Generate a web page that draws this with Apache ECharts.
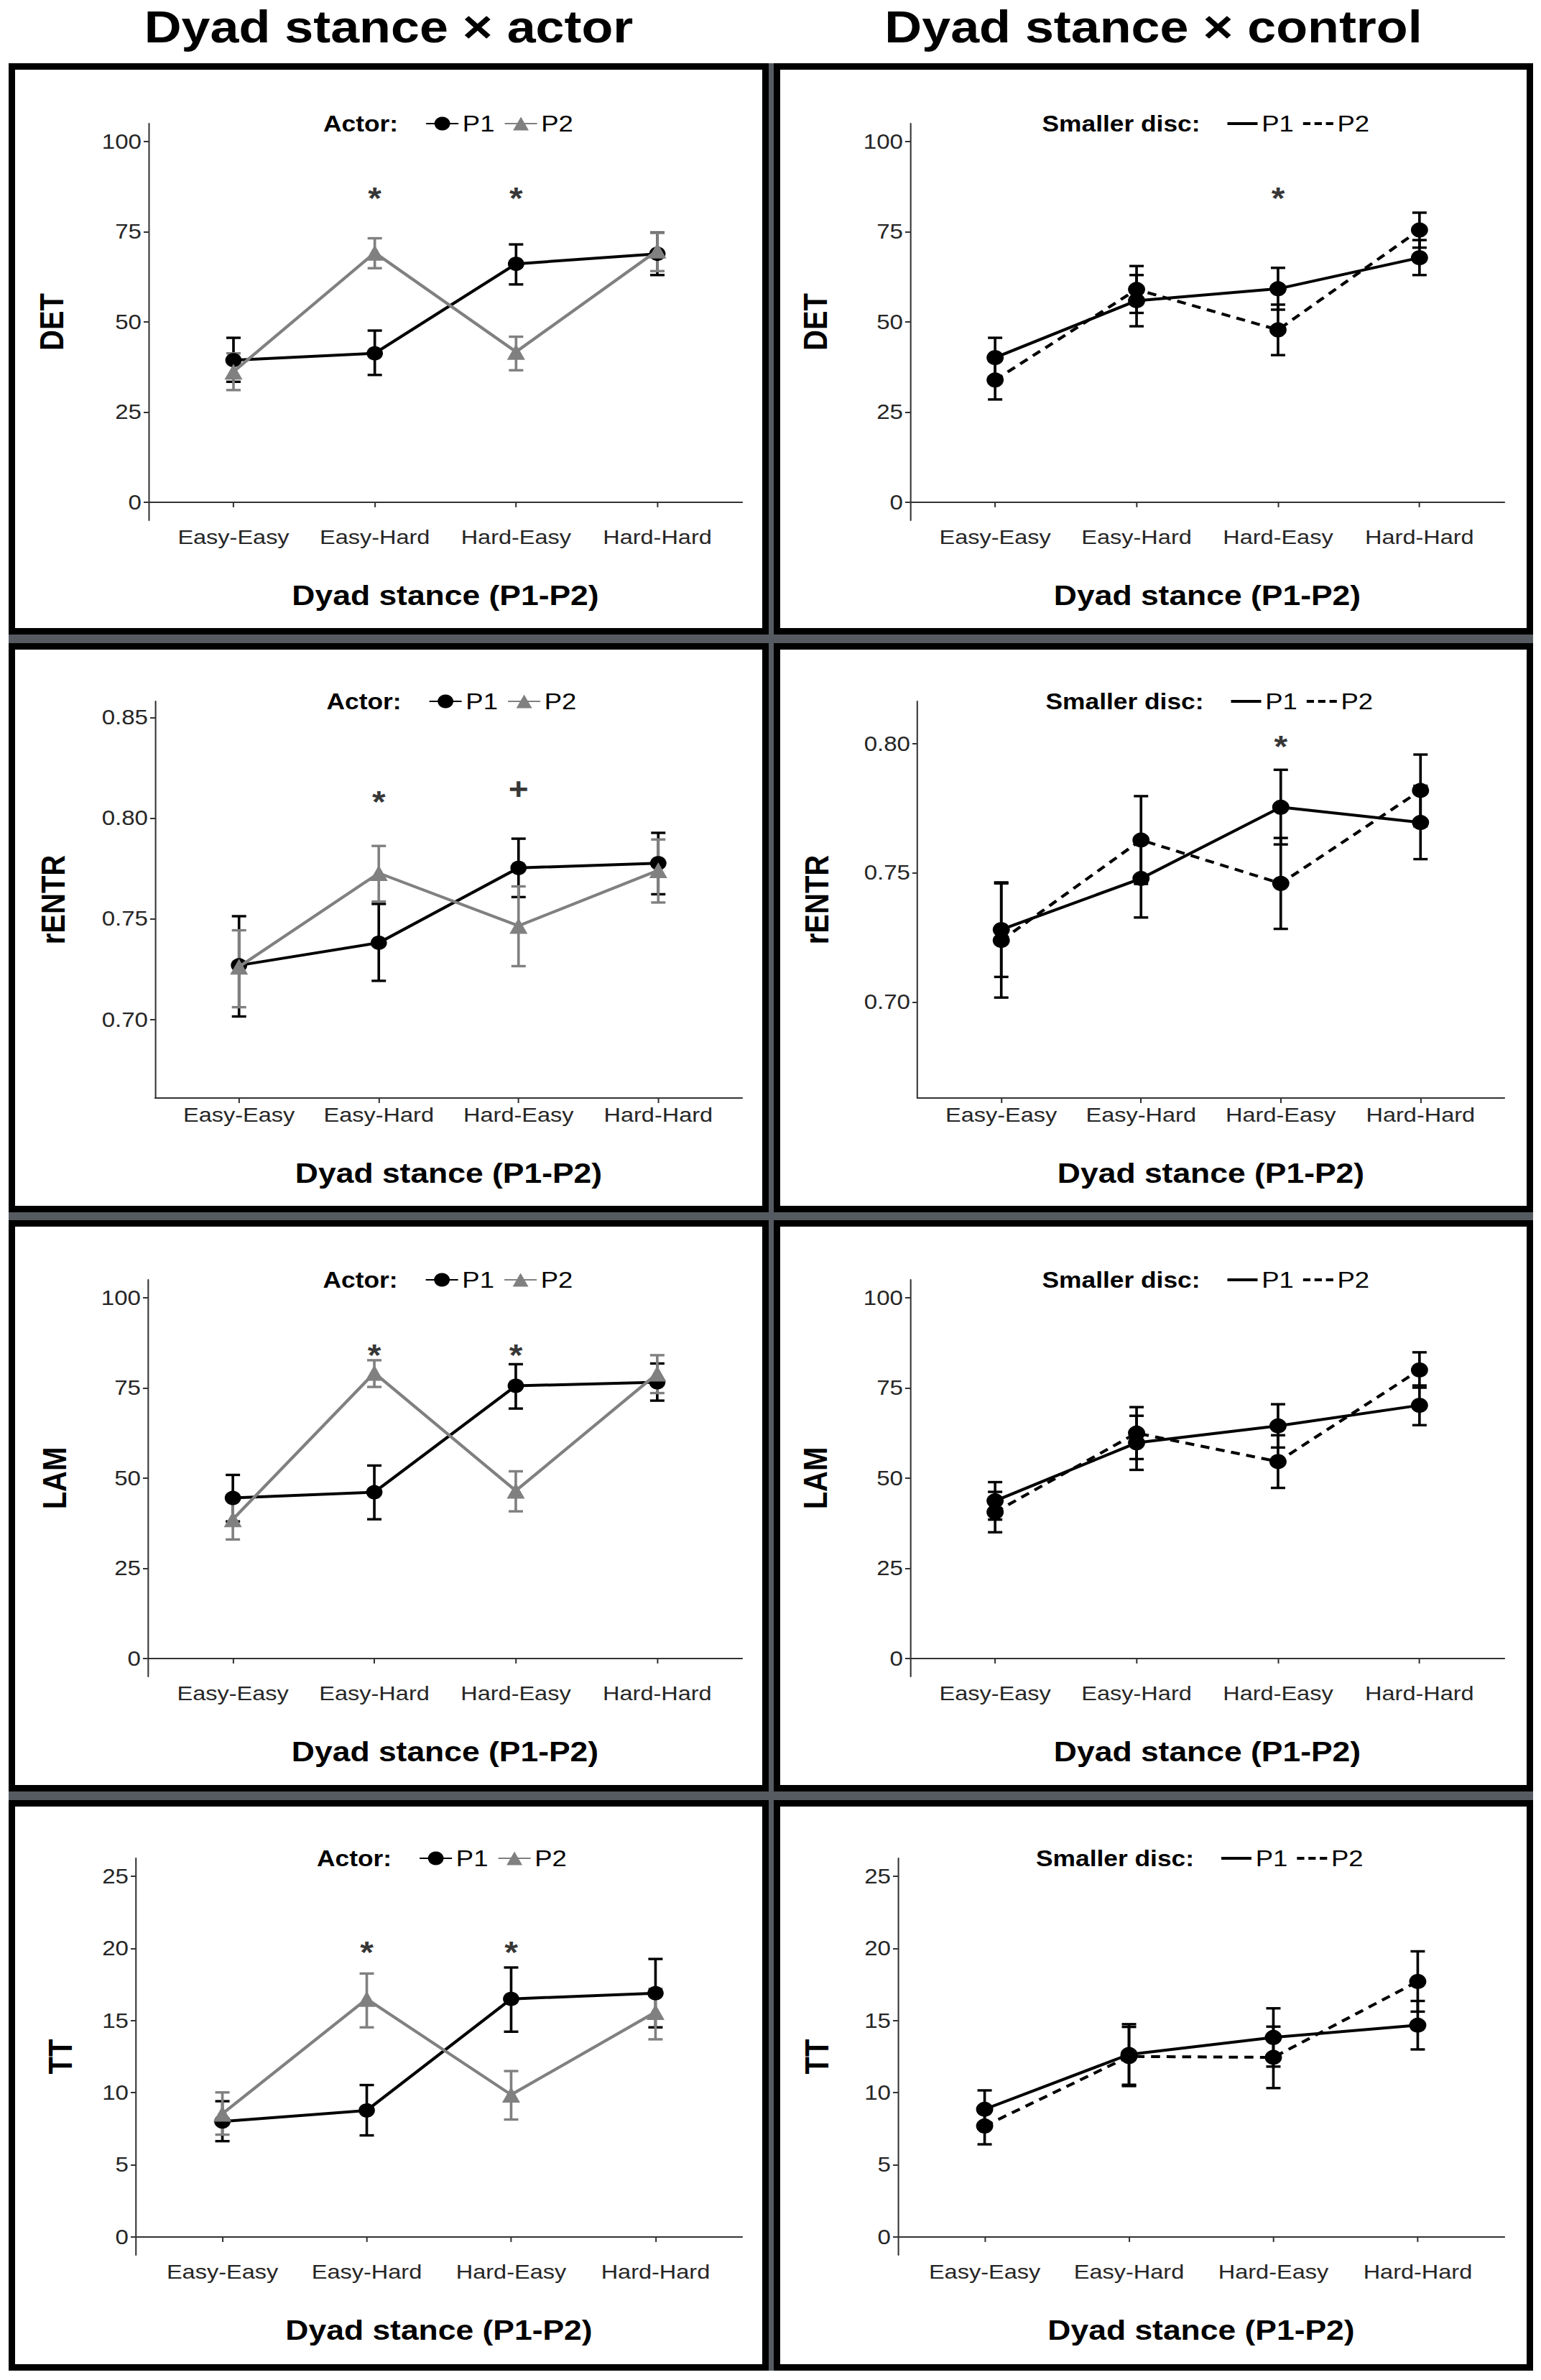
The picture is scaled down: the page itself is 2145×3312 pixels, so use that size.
<!DOCTYPE html>
<html>
<head>
<meta charset="utf-8">
<script src="https://cdn.jsdelivr.net/npm/echarts@6/dist/echarts.min.js"></script>
<style>
html,body{margin:0;padding:0;background:#fff;}
#wrap{position:relative;width:2145px;height:3312px;overflow:hidden;}
.bg{position:absolute;background:#565b61;}
.panel{position:absolute;box-sizing:border-box;border:9px solid #000;background:#fff;}
#c{position:absolute;left:0;top:0;height:3312px;transform-origin:0 0;}
</style>
</head>
<body>
<div id="wrap"><div id="c"></div></div>
<script>
// ---------------- data ----------------
const categories = ['Easy-Easy', 'Easy-Hard', 'Hard-Easy', 'Hard-Hard'];
const columnTitles = ['Dyad stance \u00d7 actor', 'Dyad stance \u00d7 control'];
const legendTitles = ['Actor:', 'Smaller disc:'];
const xAxisTitle = 'Dyad stance (P1-P2)';
const measures = ['DET', 'rENTR', 'LAM', 'TT'];

// y-axis ticks and ranges
const detTicks = [0, 25, 50, 75, 100];
const detRange = [-5, 105];
const rentrActorTicks = [0.70, 0.75, 0.80, 0.85];
const rentrActorRange = [0.661, 0.858];
const rentrControlTicks = [0.70, 0.75, 0.80];
const rentrControlRange = [0.6628, 0.8164];
const lamTicks = [0, 25, 50, 75, 100];
const lamRange = [-5, 105];
const ttTicks = [0, 5, 10, 15, 20, 25];
const ttRange = [-1.25, 26.25];

// DET x actor
const detActorP1 = [39.4, 41.3, 66.1, 68.9];
const detActorP1Lo = [33.4, 35.3, 60.4, 63.0];
const detActorP1Hi = [45.6, 47.6, 71.5, 74.8];
const detActorP2 = [36.2, 69.2, 41.7, 69.8];
const detActorP2Lo = [31.1, 64.9, 36.6, 64.1];
const detActorP2Hi = [41.3, 73.2, 45.9, 74.7];
const detActorMarks = [[2, 86.3, '*'], [3, 86.3, '*']];

// DET x control
const detControlP1 = [40.1, 55.9, 59.2, 67.8];
const detControlP1Lo = [34.6, 48.8, 53.4, 63.0];
const detControlP1Hi = [45.6, 63.0, 65.0, 72.7];
const detControlP2 = [33.9, 59.0, 47.8, 75.5];
const detControlP2Lo = [28.5, 52.5, 40.8, 70.6];
const detControlP2Hi = [39.3, 65.5, 54.8, 80.3];
const detControlMarks = [[3, 86.3, '*']];

// rENTR x actor
const rentrActorP1 = [0.7269, 0.7381, 0.7753, 0.7776];
const rentrActorP1Lo = [0.7015, 0.7192, 0.7608, 0.7622];
const rentrActorP1Hi = [0.7513, 0.7574, 0.7898, 0.7927];
const rentrActorP2 = [0.7262, 0.7727, 0.7465, 0.7741];
const rentrActorP2Lo = [0.7061, 0.7586, 0.7265, 0.7581];
const rentrActorP2Hi = [0.7443, 0.7862, 0.7661, 0.7894];
const rentrActorMarks = [[2, 0.8119, '*'], [3, 0.8145, '+']];

// rENTR x control
const rentrControlP1 = [0.7280, 0.7478, 0.7754, 0.7695];
const rentrControlP1Lo = [0.7097, 0.7327, 0.7610, 0.7553];
const rentrControlP1Hi = [0.7463, 0.7629, 0.7899, 0.7837];
const rentrControlP2 = [0.7238, 0.7627, 0.7459, 0.7819];
const rentrControlP2Lo = [0.7017, 0.7457, 0.7283, 0.7680];
const rentrControlP2Hi = [0.7459, 0.7797, 0.7635, 0.7958];
const rentrControlMarks = [[3, 0.8017, '*']];

// LAM x actor
const lamActorP1 = [44.5, 46.1, 75.6, 76.6];
const lamActorP1Lo = [38.0, 38.6, 69.3, 71.5];
const lamActorP1Hi = [50.9, 53.5, 81.6, 81.8];
const lamActorP2 = [38.6, 79.2, 46.5, 79.0];
const lamActorP2Lo = [33.0, 75.3, 40.8, 73.6];
const lamActorP2Hi = [44.2, 82.7, 51.9, 84.1];
const lamActorMarks = [[2, 86.1, '*'], [3, 86.1, '*']];

// LAM x control
const lamControlP1 = [43.7, 59.8, 64.5, 70.2];
const lamControlP1Lo = [38.5, 52.3, 58.5, 64.7];
const lamControlP1Hi = [48.9, 67.3, 70.5, 75.7];
const lamControlP2 = [40.6, 62.5, 54.6, 80.0];
const lamControlP2Lo = [35.0, 55.3, 47.3, 75.1];
const lamControlP2Hi = [46.2, 69.7, 61.9, 84.9];
const lamControlMarks = [];

// TT x actor
const ttActorP1 = [8.0, 8.77, 16.5, 16.9];
const ttActorP1Lo = [6.64, 7.04, 14.23, 14.53];
const ttActorP1Hi = [9.41, 10.53, 18.68, 19.27];
const ttActorP2 = [8.54, 16.5, 9.86, 15.59];
const ttActorP2Lo = [7.09, 14.53, 8.14, 13.7];
const ttActorP2Hi = [10.02, 18.26, 11.5, 17.2];
const ttActorMarks = [[2, 20.24, '*'], [3, 20.24, '*']];

// TT x control
const ttControlP1 = [8.85, 12.65, 13.83, 14.68];
const ttControlP1Lo = [7.54, 10.55, 11.81, 13.0];
const ttControlP1Hi = [10.16, 14.75, 15.85, 16.36];
const ttControlP2 = [7.69, 12.51, 12.45, 17.71];
const ttControlP2Lo = [6.42, 10.46, 10.32, 15.62];
const ttControlP2Hi = [8.96, 14.56, 14.58, 19.8];
const ttControlMarks = [];

// ---------------- layout (styles) ----------------
// The reference figure is horizontally stretched; the chart is drawn narrower and stretched back with CSS.
const SX = 1.14;
const W0 = 2145 / SX;
const X = v => v / SX;
const FONT = '"Liberation Sans", Arial, Helvetica, sans-serif';
const rowTop = [88, 895, 1698, 2505];
const rowBottom = [883, 1687, 2493, 3299];
const colLeft = [12, 1077];
const colRight = [1070, 2134];
const gridTop = [172, 976, 1781, 2586];
const gridH = 552;
const gridLeft = [[207, 1267], [216, 1277], [206, 1267], [189, 1250]];
const gridRight = [1033, 2094];
const yTitleX = [[72, 1135], [74, 1137], [76, 1135], [84, 1137]];

const panels = [
  {r:0, c:0, m:'DET', ticks:detTicks, range:detRange, s:[[detActorP1, detActorP1Lo, detActorP1Hi],[detActorP2, detActorP2Lo, detActorP2Hi]], marks:detActorMarks},
  {r:0, c:1, m:'DET', ticks:detTicks, range:detRange, s:[[detControlP1, detControlP1Lo, detControlP1Hi],[detControlP2, detControlP2Lo, detControlP2Hi]], marks:detControlMarks},
  {r:1, c:0, m:'rENTR', ticks:rentrActorTicks, range:rentrActorRange, s:[[rentrActorP1, rentrActorP1Lo, rentrActorP1Hi],[rentrActorP2, rentrActorP2Lo, rentrActorP2Hi]], marks:rentrActorMarks},
  {r:1, c:1, m:'rENTR', ticks:rentrControlTicks, range:rentrControlRange, s:[[rentrControlP1, rentrControlP1Lo, rentrControlP1Hi],[rentrControlP2, rentrControlP2Lo, rentrControlP2Hi]], marks:rentrControlMarks},
  {r:2, c:0, m:'LAM', ticks:lamTicks, range:lamRange, s:[[lamActorP1, lamActorP1Lo, lamActorP1Hi],[lamActorP2, lamActorP2Lo, lamActorP2Hi]], marks:lamActorMarks},
  {r:2, c:1, m:'LAM', ticks:lamTicks, range:lamRange, s:[[lamControlP1, lamControlP1Lo, lamControlP1Hi],[lamControlP2, lamControlP2Lo, lamControlP2Hi]], marks:lamControlMarks},
  {r:3, c:0, m:'TT', ticks:ttTicks, range:ttRange, s:[[ttActorP1, ttActorP1Lo, ttActorP1Hi],[ttActorP2, ttActorP2Lo, ttActorP2Hi]], marks:ttActorMarks},
  {r:3, c:1, m:'TT', ticks:ttTicks, range:ttRange, s:[[ttControlP1, ttControlP1Lo, ttControlP1Hi],[ttControlP2, ttControlP2Lo, ttControlP2Hi]], marks:ttControlMarks}
];

// panel frames (decoration)
const wrap = document.getElementById('wrap');
const cdiv = document.getElementById('c');
cdiv.style.width = W0 + 'px';
cdiv.style.transform = 'scaleX(' + SX + ')';
const bg = document.createElement('div');
bg.className = 'bg';
bg.style.left = colLeft[0] + 'px'; bg.style.top = rowTop[0] + 'px';
bg.style.width = (colRight[1] - colLeft[0]) + 'px'; bg.style.height = (rowBottom[3] - rowTop[0]) + 'px';
wrap.insertBefore(bg, wrap.firstChild);
for (let r = 0; r < 4; r++) for (let c = 0; c < 2; c++) {
  const d = document.createElement('div');
  d.className = 'panel';
  d.style.left = colLeft[c] + 'px'; d.style.top = rowTop[r] + 'px';
  d.style.width = (colRight[c] - colLeft[c]) + 'px'; d.style.height = (rowBottom[r] - rowTop[r]) + 'px';
  wrap.insertBefore(d, cdiv);
}

// ---------------- option ----------------
const BLACK = '#000000', GRAY = '#808080';
const AXIS_COLOR = '#333333';
const grid = [], xAxis = [], yAxis = [], series = [], legend = [];
const title = [];

columnTitles.forEach((t, c) => {
  title.push({
    text: t, left: X((colLeft[c] + colRight[c]) / 2), top: 6, textAlign: 'center', padding: 0,
    textStyle: {fontFamily: FONT, fontSize: 63, fontWeight: 'bold', color: '#000', lineHeight: 62}
  });
});

const CAP = X(10);
function errRender(params, api) {
  const x = api.value(0);
  const lo = api.coord([x, api.value(1)]);
  const hi = api.coord([x, api.value(2)]);
  const style = {stroke: api.visual('color'), lineWidth: 3.4, fill: null};
  return {
    type: 'group',
    children: [
      {type: 'line', shape: {x1: lo[0], y1: lo[1], x2: hi[0], y2: hi[1]}, style: {stroke: api.visual('color'), lineWidth: 3.2, fill: null}},
      {type: 'line', shape: {x1: lo[0] - CAP, y1: lo[1], x2: lo[0] + CAP, y2: lo[1]}, style: style},
      {type: 'line', shape: {x1: hi[0] - CAP, y1: hi[1], x2: hi[0] + CAP, y2: hi[1]}, style: style}
    ]
  };
}

panels.forEach((p, i) => {
  const gl = gridLeft[p.r][p.c], gr = gridRight[p.c], gt = gridTop[p.r];
  const cx = (gl + gr) / 2;
  grid.push({left: X(gl), top: gt, width: X(gr - gl), height: gridH, containLabel: false});
  const decimals = p.ticks.some(v => Math.round(v) !== v) ? 2 : 0;
  xAxis.push({
    type: 'value', gridIndex: i, min: 0.4, max: 4.6,
    name: xAxisTitle, nameLocation: 'middle', nameGap: 84,
    nameTextStyle: {fontFamily: FONT, fontSize: 39, fontWeight: 'bold', color: '#000', lineHeight: 40},
    axisLine: {show: true, lineStyle: {color: AXIS_COLOR, width: 2}},
    axisTick: {show: true, length: 7, customValues: [1, 2, 3, 4], lineStyle: {color: AXIS_COLOR, width: 1.8}},
    axisLabel: {customValues: [1, 2, 3, 4], margin: 8, fontFamily: FONT, fontSize: 28.5, color: '#262626',
      formatter: v => categories[Math.round(v) - 1]},
    splitLine: {show: false}
  });
  const yt = yTitleX[p.r][p.c];
  yAxis.push({
    type: 'value', gridIndex: i, min: p.range[0], max: p.range[1],
    name: p.m, nameLocation: 'middle', nameGap: X(gl - yt) - 20,
    nameTextStyle: {fontFamily: FONT, fontSize: 40, fontWeight: 'bold', color: '#000', lineHeight: 40},
    axisLine: {show: true, lineStyle: {color: AXIS_COLOR, width: 1.8}},
    axisTick: {show: true, length: X(7), customValues: p.ticks, lineStyle: {color: AXIS_COLOR, width: 2}},
    axisLabel: {customValues: p.ticks, margin: X(10), fontFamily: FONT, fontSize: 29, color: '#262626',
      formatter: v => v.toFixed(decimals)},
    splitLine: {show: false}
  });

  const isActor = p.c === 0;
  const suffix = isActor ? '' : ' ';
  const names = ['P1' + suffix, 'P2' + suffix];
  const colors = isActor ? [BLACK, GRAY] : [BLACK, BLACK];
  const symbols = isActor ? ['circle', 'triangle'] : ['circle', 'circle'];
  const sizes = isActor ? [20, 22] : [21, 21];
  const dashes = isActor ? ['solid', 'solid'] : ['solid', [11, 8]];

  // error bars
  p.s.forEach((arr, k) => {
    series.push({
      type: 'custom', name: names[k] + '-err', xAxisIndex: i, yAxisIndex: i,
      itemStyle: {color: colors[k]}, renderItem: errRender, z: 2,
      encode: {x: 0, y: [1, 2]},
      data: arr[0].map((_, j) => [j + 1, arr[1][j], arr[2][j]])
    });
  });
  // means
  p.s.forEach((arr, k) => {
    series.push({
      type: 'line', name: names[k], xAxisIndex: i, yAxisIndex: i,
      symbol: symbols[k], symbolSize: sizes[k], showSymbol: true,
      itemStyle: {color: colors[k]},
      lineStyle: {color: colors[k], width: 4, type: dashes[k]},
      z: 3 + k,
      data: arr[0].map((v, j) => [j + 1, v])
    });
  });
  // significance annotations
  if (p.marks.length) {
    series.push({
      type: 'scatter', name: 'sig' + i, xAxisIndex: i, yAxisIndex: i,
      symbolSize: 1, itemStyle: {color: 'rgba(0,0,0,0)'}, z: 6,
      label: {show: true, position: 'inside', formatter: '{b}', fontFamily: FONT, fontSize: 42, fontWeight: 'bold', color: '#000'},
      data: p.marks.map(m => ({value: [m[0], m[1]], name: m[2], label: {offset: [0, m[2] === '*' ? 10 : 0]}}))
    });
  }

  // legend title + legend
  const iconStart = isActor ? cx - 28 : cx + 28;
  title.push({
    text: legendTitles[p.c], left: X(iconStart - 38), top: gt - 18, textAlign: 'right', padding: 0,
    textStyle: {fontFamily: FONT, fontSize: 31, fontWeight: 'bold', color: '#000', lineHeight: 36}
  });
  const legendData = isActor
    ? names.map(n => ({name: n}))
    : [{name: names[0], icon: 'path://M0,0H37V4H0Z'},
       {name: names[1], icon: 'path://M0,0H9V4H0Z M14,0H23V4H14Z M28,0H37V4H28Z'}];
  legend.push({
    left: X(iconStart), top: gt - 17, orient: 'horizontal', padding: 0,
    itemWidth: X(isActor ? 45 : 42), itemHeight: 24, itemGap: X(13),
    selectedMode: false,
    textStyle: {fontFamily: FONT, fontSize: 32, color: '#000', lineHeight: 34},
    formatter: n => n.trim(),
    data: legendData
  });
});

const chart = echarts.init(cdiv, null, {renderer: 'svg', width: W0, height: 3312});
chart.setOption({
  animation: false,
  backgroundColor: 'transparent',
  textStyle: {fontFamily: FONT},
  title: title, grid: grid, xAxis: xAxis, yAxis: yAxis, legend: legend, series: series
});
</script>
</body>
</html>
